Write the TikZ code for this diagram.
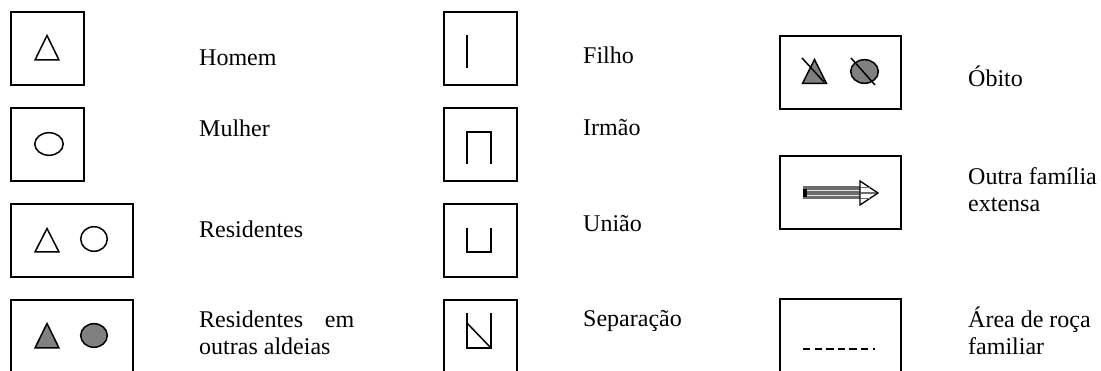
\documentclass[tikz,border=0pt]{standalone}
\usepackage{fontspec}
\setmainfont{Liberation Serif}
\begin{document}
\begin{tikzpicture}[x=1pt,y=-1pt,
  legbox/.style={draw,line width=2pt,inner sep=0pt,minimum height=73pt},
  sqbox/.style={legbox,minimum width=73pt},
  widebox/.style={legbox,minimum width=121pt},
  lbl/.style={anchor=base west,inner sep=0pt,font=\fontsize{24}{27}\selectfont},
  sym/.style={line width=1.5pt,line join=miter},
  symfill/.style={sym,fill=gray}]
\useasboundingbox (0,0) rectangle (1101,371);
\clip (0,0) rectangle (1101,371);
% ---------- left column ----------
\node[sqbox] (b1) at (47.5,48.5) {};
\node[sqbox] (b2) at (47.5,144.5) {};
\node[widebox,minimum width=122pt] (b3) at (71.5,240.5) {};
\node[widebox,minimum width=122pt] (b4) at (71.5,336.5) {};
\draw[sym] (35,60) -- (59,60) -- (47,35.5) -- cycle;
\draw[sym] (49,144) ellipse [x radius=14.2,y radius=11.3];
\draw[sym] (35,252) -- (59,252) -- (47,228.5) -- cycle;
\draw[sym] (94,239) ellipse [x radius=13.3,y radius=12.3];
\draw[symfill] (35,348) -- (59,348) -- (47,323.5) -- cycle;
\draw[symfill] (94,335.5) ellipse [x radius=13.3,y radius=11.8];
\node[lbl] (t1) at (199,66) {Homem};
\node[lbl] (t2) at (199,137) {Mulher};
\node[lbl] (t3) at (199,238) {Residentes};
\node[lbl] (t4a) at (199,328) {\makebox[155pt][s]{Residentes em}};
\node[lbl] (t4b) at (199,355) {outras aldeias};
% ---------- middle column ----------
\node[sqbox] (m1) at (480,49) {};
\node[sqbox] (m2) at (480,145) {};
\node[sqbox] (m3) at (480,241) {};
\node[sqbox] (m4) at (480,337) {};
\draw[sym] (467,35) -- (467,68);
\draw[sym] (467,164) -- (467,132) -- (491,132) -- (491,164);
\draw[sym] (467,228) -- (467,252) -- (491,252) -- (491,228);
\draw[sym] (467,313) -- (467,348) -- (491,348) -- (491,313);
\draw[sym] (467,323) -- (491,348);
\node[lbl] (u1) at (583,64) {Filho};
\node[lbl] (u2) at (583,136) {Irmão};
\node[lbl] (u3) at (583,232) {União};
\node[lbl] (u4) at (583,327) {Separação};
% ---------- right column ----------
\node[widebox] (r1) at (840,73) {};
\node[widebox] (r2) at (840,193) {};
\node[widebox] (r3) at (840,336) {};
\draw[symfill] (802.5,83.5) -- (826.5,83.5) -- (814.5,59.5) -- cycle;
\draw[sym] (802,58) -- (824,82);
\draw[symfill] (864.5,71.5) ellipse [x radius=13.8,y radius=11.8];
\draw[sym] (851,58) -- (875,85);
% striped arrow
\fill[gray!85!black] (803,186.5) rectangle (862,199.5);
\draw[white!80!gray,line width=1.3pt] (807,190.3) -- (862,190.3);
\draw[white!80!gray,line width=1.3pt] (807,195.7) -- (862,195.7);
\fill[black] (803,189) rectangle (806.5,197);
\draw[black,line width=1.3pt,fill=white,line join=miter] (860,181) -- (878,193) -- (860,205) -- cycle;
\draw[gray!85!black,line width=1.8pt] (860.5,187.5) -- (869.5,187.5);
\draw[gray!85!black,line width=1.8pt] (860.5,193) -- (875.5,193);
\draw[gray!85!black,line width=1.8pt] (860.5,198.5) -- (869.5,198.5);
\draw[line width=1.2pt,dash pattern=on 7.3pt off 4.3pt] (803,349) -- (875,349);
\node[lbl] (v1) at (968,87) {Óbito};
\node[lbl] (v2a) at (968,185) {Outra família};
\node[lbl] (v2b) at (968,212) {extensa};
\node[lbl] (v3a) at (968,328) {Área de roça};
\node[lbl] (v3b) at (968,355) {familiar};
\end{tikzpicture}
\end{document}
